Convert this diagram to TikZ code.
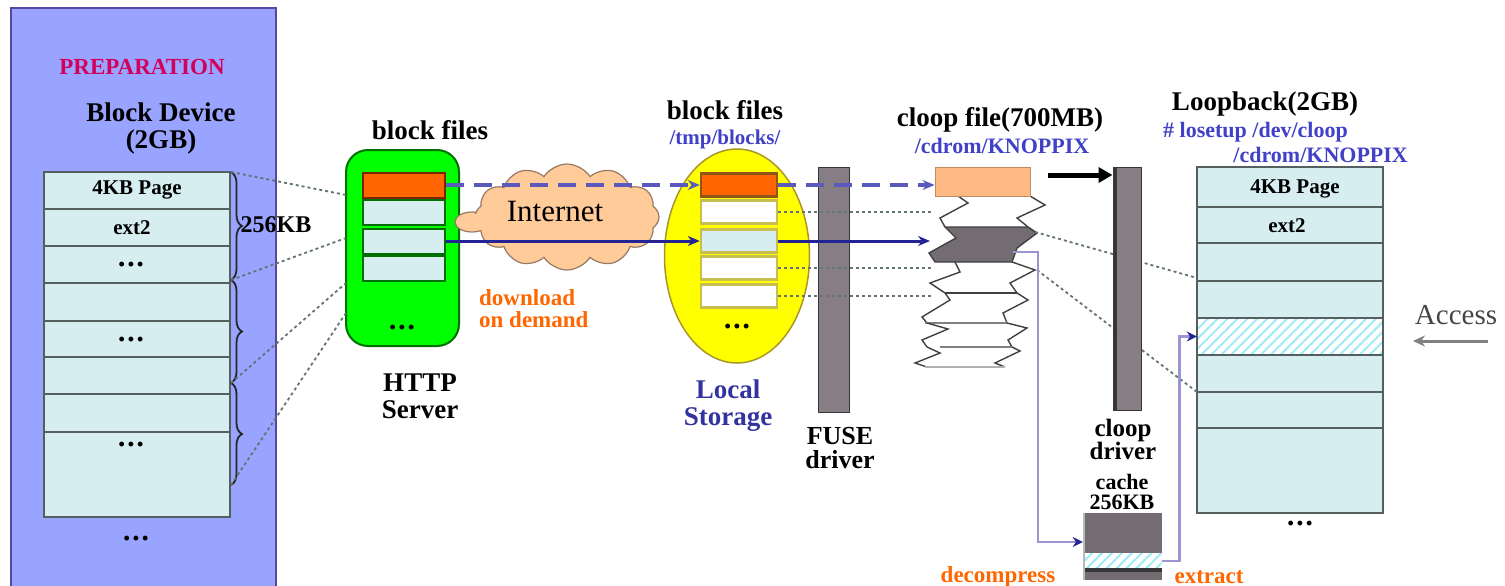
\documentclass[tikz,border=0pt]{standalone}
\usepackage{fontspec}
\setmainfont{Liberation Serif}
\usetikzlibrary{arrows.meta,shapes.symbols,shapes.geometric,shapes.misc,decorations.pathreplacing,patterns.meta}

\definecolor{panelblue}{RGB}{152,164,255}
\definecolor{paneledge}{RGB}{90,70,160}
\definecolor{rowfill}{RGB}{214,238,240}
\definecolor{rowline}{RGB}{85,95,95}
\definecolor{prepred}{RGB}{210,0,90}
\definecolor{srvgreen}{RGB}{0,255,0}
\definecolor{srvedge}{RGB}{0,110,0}
\definecolor{blkorange}{RGB}{255,102,0}
\definecolor{blkedge}{RGB}{120,40,0}
\definecolor{peach}{RGB}{255,204,153}
\definecolor{peachedge}{RGB}{150,120,100}
\definecolor{lsyellow}{RGB}{255,255,0}
\definecolor{lsedge}{RGB}{170,150,40}
\definecolor{lsblk}{RGB}{200,190,80}
\definecolor{drvgray}{RGB}{135,125,132}
\definecolor{drvdark}{RGB}{55,55,55}
\definecolor{lightorange}{RGB}{255,185,130}
\definecolor{coilgray}{RGB}{115,108,115}
\definecolor{dashblue}{RGB}{90,90,190}
\definecolor{navyline}{RGB}{35,35,150}
\definecolor{pathblue}{RGB}{64,64,200}
\definecolor{navytext}{RGB}{50,50,160}
\definecolor{orangetext}{RGB}{255,102,0}
\definecolor{linkgray}{RGB}{100,115,115}
\definecolor{lilac}{RGB}{155,150,210}
\definecolor{accessgray}{RGB}{70,70,70}
\definecolor{hatchcyan}{RGB}{160,235,245}

\tikzset{
  big/.style={font=\fontsize{27}{27}\selectfont\bfseries, inner sep=0pt, align=center},
  rowtext/.style={font=\fontsize{21}{22}\selectfont\bfseries, inner sep=0pt},
  pathtext/.style={font=\fontsize{22}{24}\selectfont\bfseries, text=pathblue, inner sep=0pt},
  notetext/.style={font=\fontsize{23}{22}\selectfont\bfseries, text=orangetext, inner sep=0pt, align=left},
  dots/.style={font=\fontsize{18}{20}\selectfont\bfseries, inner sep=0pt},
  srvblock/.style={chamfered rectangle, chamfered rectangle corners=south east,
    chamfered rectangle xsep=5pt, chamfered rectangle ysep=5pt, draw=srvedge, line width=2pt,
    fill=rowfill, minimum width=82pt, minimum height=25pt, inner sep=0pt},
  lsblock/.style={rectangle, draw=lsblk, line width=2.5pt, fill=white,
    minimum width=76pt, minimum height=23pt, inner sep=0pt},
  brlink/.style={draw=linkgray, line width=1.8pt, dash pattern=on 3pt off 3pt},
  dashlink/.style={draw=dashblue, line width=3.5pt, dash pattern=on 18pt off 10pt,
    -{Stealth[length=12pt,width=10pt]}},
  solidlink/.style={draw=navyline, line width=3pt, -{Stealth[length=12pt,width=10pt]}},
  lilacline/.style={draw=lilac, line width=2.8pt},
  driver/.style={rectangle, fill=drvgray, draw=drvdark, line width=1pt, inner sep=0pt},
  hatch/.style={pattern={Lines[angle=45,distance=7pt,line width=2pt]}, pattern color=hatchcyan},
}

\begin{document}
\begin{tikzpicture}[x=1pt,y=-1pt]
\useasboundingbox (0,0) rectangle (1505,586);
\clip (0,0) rectangle (1505,586);

% ---------- preparation panel ----------
\fill[panelblue] (11,8) rectangle (276,600);
\draw[paneledge, line width=1.5pt] (11,600) -- (11,8) -- (276,8) -- (276,600);
\node[font=\fontsize{23}{23}\selectfont\bfseries, text=prepred, inner sep=0pt] (prep) at (142,67) {PREPARATION};
\node[big] (bdev) at (161,129) {Block Device\\(2GB)};

% block device table
\fill[rowfill] (44,172) rectangle (230,517);
\foreach \y in {209,246,283,321,357,394,432}
  \draw[rowline, line width=1.5pt] (44,\y) -- (230,\y);
\draw[rowline, line width=1.5pt] (44,172) rectangle (230,517);
\node[rowtext] (dpage) at (137,190) {4KB Page};
\node[rowtext] (dext) at (132,228) {ext2};
\node[dots] (dd1) at (131,266) {•\,•\,•};
\node[dots] (dd2) at (131,341) {•\,•\,•};
\node[dots] (dd3) at (131,446) {•\,•\,•};
\node[dots] (dd4) at (136,540) {•\,•\,•};

% 256KB chunks
\coordinate (b0) at (231,172);
\coordinate (b1) at (231,280);
\coordinate (b2) at (231,383);
\coordinate (b3) at (231,485);
\foreach \a/\b in {b0/b1,b1/b2,b2/b3}
  \draw[black!85, line width=1.8pt, decorate, decoration={brace, amplitude=11pt}] (\a) -- (\b);
\node[font=\fontsize{24}{24}\selectfont\bfseries, inner sep=1pt] (kb) at (276,225) {256KB};

% ---------- HTTP server ----------
\node[rectangle, rounded corners=22pt, fill=srvgreen, draw=srvedge, line width=2pt,
      minimum width=113pt, minimum height=196pt] (srv) at (402.5,248) {};
\node[srvblock, fill=blkorange, draw=blkedge] (s1) at (404,185) {};
\node[srvblock] (s2) at (404,212) {};
\node[srvblock] (s3) at (404,241) {};
\node[srvblock] (s4) at (404,268) {};
\node[dots] (sdots) at (402,329) {•\,•\,•};

\coordinate (v1) at (346,195);
\coordinate (v2) at (346,238);
\coordinate (v3) at (346,283);
\coordinate (v4) at (346,313);
\draw[brlink] (b0) -- (v1);
\draw[brlink] (b1) -- (v2);
\draw[brlink] (b2) -- (v3);
\draw[brlink] (b3) -- (v4);

% ---------- Internet cloud ----------
\node[ellipse, fill=peach, draw=peachedge, line width=1.2pt, minimum width=34pt, minimum height=20pt] (tail) at (472,222) {};
\node[cloud, cloud puffs=12, cloud puff arc=115, aspect=1.9, draw=peachedge, line width=1.2pt,
      fill=peach, minimum width=184pt, minimum height=106pt, inner sep=0pt] (net) at (567,217) {};
\fill[peach] (474,214) rectangle (492,230);

% ---------- local storage ----------
\node[ellipse, fill=lsyellow, draw=lsedge, line width=1.5pt, minimum width=145pt, minimum height=214pt] (ls) at (737,256) {};
\node[lsblock, fill=blkorange, draw=blkedge!70!lsblk] (l1) at (739,185) {};
\node[lsblock] (l2) at (739,212) {};
\node[lsblock, fill=rowfill] (l3) at (739,241) {};
\node[lsblock] (l4) at (739,268) {};
\node[lsblock] (l5) at (739,296) {};
\node[dots] (ldots) at (737,328) {•\,•\,•};

% ---------- FUSE driver ----------
\node[driver, minimum width=31pt, minimum height=245pt] (fuse) at (833.5,289.5) {};

% ---------- cloop image (folded stack) ----------
\begin{scope}[line width=1.4pt, draw=black!75]
  \draw (958,196) -- (968,203) -- (940,218) -- (945,227);
  \draw (1030,196) -- (1045,205) -- (1017,218) -- (1028,227);
  \filldraw[fill=coilgray] (945,227) -- (1028,227) -- (1037,233) -- (1017,248) -- (1012,262)
     -- (935,262) -- (929,253) -- (956,238) -- cycle;
  \draw (955,262) -- (960,272) -- (930,283) -- (945,293);
  \draw (1012,262) -- (1035,270) -- (1010,283) -- (1017,293);
  \draw (945,293) -- (1017,293);
  \draw (945,293) -- (950,300) -- (922,317) -- (927,323);
  \draw (1017,293) -- (1028,300) -- (1003,313) -- (1007,323);
  \draw[gray] (925,323) -- (1007,323);
  \draw (927,323) -- (948,329) -- (922,340) -- (927,347);
  \draw (1007,323) -- (1027,328) -- (1008,340) -- (1012,347);
  \draw[gray] (940,347) -- (1012,347);
  \draw (927,347) -- (940,353) -- (915,363) -- (927,367);
  \draw (1012,347) -- (1020,351) -- (995,363) -- (1005,367);
  \draw[gray!60] (925,367) -- (1005,367);
\end{scope}
\node[rectangle, fill=lightorange, draw=lightorange!75!black, line width=0.8pt,
      minimum width=95pt, minimum height=29pt, inner sep=0pt] (cf) at (982.5,181.5) {};
\coordinate (coilw) at (930,241);
\coordinate (coilv) at (933,241);

% ---------- transfers ----------
\draw[dashlink] (s1.east) -- (l1.west);
\draw[dashlink] (l1.east) -- (l1.east -| cf.west);
\draw[solidlink] (s3.east) -- (l3.west);
\draw[solidlink] (l3.east) -- (l3.east -| coilw);
\draw[brlink] (l2.east) -- (l2.east -| coilv);
\draw[brlink] (l4.east) -- (l4.east -| coilv);
\draw[brlink] (l5.east) -- (l5.east -| coilv);

% ---------- loopback device ----------
\fill[rowfill] (1197,167) rectangle (1383,513);
\node[rectangle, minimum width=186pt, minimum height=37pt, inner sep=0pt, fill=white] (hrow) at (1290,336.5) {};
\fill[hatch] (hrow.south west) rectangle (hrow.north east);
\foreach \y in {207,243,281,318,355,392,428}
  \draw[rowline, line width=1.5pt] (1197,\y) -- (1383,\y);
\draw[rowline, line width=1.5pt] (1197,167) rectangle (1383,513);
\node[rowtext] (lpage) at (1295,189) {4KB Page};
\node[rowtext] (lext) at (1287,226) {ext2};
\node[dots] (lbdots) at (1300,525) {•\,•\,•};

% mapping from compressed blocks to loopback pages
\coordinate (ca) at (1035,232);
\coordinate (la) at (1197,278);
\coordinate (cb) at (1037,270);
\coordinate (lb) at (1197,392);
\draw[brlink] (ca) -- (la);
\draw[brlink] (cb) -- (lb);

% ---------- cloop driver ----------
\node[driver, minimum width=28pt, minimum height=243pt] (drv) at (1127,288.5) {};
\draw[drvdark, line width=4pt] ([xshift=2pt]drv.north west) -- ([xshift=2pt]drv.south west);
\coordinate (ba) at (1048,175);
\draw[black, line width=5pt, -{Triangle[length=14pt,width=15pt]}] (ba) -- (ba -| drv.west);

% ---------- cache ----------
\node[rectangle, minimum width=79pt, minimum height=67pt, inner sep=0pt] (cache) at (1122.5,546.5) {};
\fill[coilgray] (1083,513) rectangle (1162,553);
\fill[white] (1083,553) rectangle (1162,568);
\fill[hatch] (1083,553) rectangle (1162,568);
\fill[drvdark] (1083,568) rectangle (1162,572);
\fill[coilgray] (1083,572) rectangle (1162,580);
\draw[gray!55, line width=2pt] (1084,513) -- (1084,580);

\coordinate (dc) at (1013,252);
\draw[lilacline, -{Stealth[length=10pt,width=10pt,color=navyline]}]
  (dc) -- ++(25,0) |- ([yshift=4.5pt]cache.west);
\draw[lilacline, -{Stealth[length=10pt,width=10pt,color=navyline]}]
  ([yshift=-14.5pt]cache.east) -- ++(17,0) |- (hrow.west);

% ---------- access ----------
\coordinate (acc1) at (1488,341);
\coordinate (acc2) at (1413,341);
\draw[gray, line width=3pt, -{Stealth[length=12pt,width=11pt,open]}] (acc1) -- (acc2);
\node[font=\fontsize{29}{29}\selectfont, text=accessgray, inner sep=0pt] (acc) at (1456,315) {Access};

% ---------- labels ----------
\node[big] (sfiles) at (430,130) {block files};
\node[big] (http) at (420,396) {HTTP\\Server};
\node[font=\fontsize{31}{31}\selectfont, inner sep=0pt] (inet) at (555,212) {Internet};
\node[notetext, anchor=west] (dl) at (479,309) {download\\on demand};
\node[big] (lfiles) at (725,110) {block files};
\node[pathtext, font=\fontsize{21}{23}\selectfont\bfseries] (tmp) at (725,139) {/tmp/blocks/};
\node[big, text=navytext] (lst) at (728,406) {Local\\Storage};
\node[font=\fontsize{26}{24}\selectfont\bfseries, inner sep=0pt, align=center] (fusel) at (840,448) {FUSE\\driver};
\node[big] (cfl) at (1000,120) {cloop file(700MB)};
\node[pathtext] (cdr) at (1002,146) {/cdrom/KNOPPIX};
\node[big] (lbl) at (1265,104) {Loopback(2GB)};
\node[pathtext, anchor=west] (los) at (1163,132) {\# losetup /dev/cloop};
\node[pathtext, anchor=east] (cdr2) at (1408,155) {/cdrom/KNOPPIX};
\node[font=\fontsize{25}{23}\selectfont\bfseries, inner sep=0pt, align=center] (drvl) at (1123,439) {cloop\\driver};
\node[font=\fontsize{22}{20}\selectfont\bfseries, inner sep=0pt, align=center] (cachel) at (1122,492) {cache\\256KB};
\node[notetext] (dec) at (998,577) {decompress};
\node[notetext] (ext) at (1209,577) {extract};
\end{tikzpicture}
\end{document}
